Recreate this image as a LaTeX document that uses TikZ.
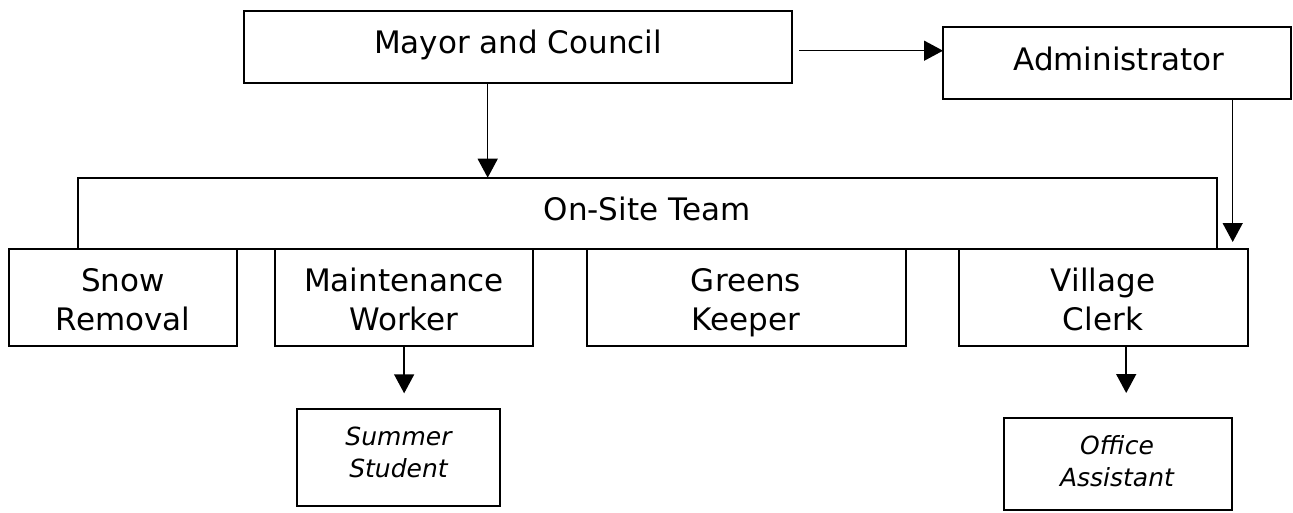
\documentclass[tikz,border=0pt]{standalone}
\usepackage{fontspec}
\setmainfont{DejaVu Sans}
\usetikzlibrary{arrows.meta}
\tikzset{
  box/.style={draw, line width=1.7pt, anchor=north west, inner sep=0pt, outer sep=0pt},
  lbl/.style={anchor=base, inner sep=0pt, font=\fontsize{31}{38.3}\selectfont},
  ilbl/.style={anchor=base, inner sep=0pt, font=\fontsize{25}{32.2}\selectfont\itshape},
  arr/.style={line width=1.5pt, -{Triangle[length=19pt,width=20pt]}},
}
\newcommand{\twolines}[2]{\begin{tabular}[t]{@{}c@{}}#1\\#2\end{tabular}}
\begin{document}
\begin{tikzpicture}[x=1pt, y=-1pt]
  \useasboundingbox (0,0) rectangle (1293,512);

  % boxes
  \node[box, minimum width=548pt,    minimum height=72pt]   (mayor)  at (244,10.7)   {};
  \node[box, minimum width=348pt,    minimum height=72pt]   (admin)  at (943,26.7)   {};
  \node[box, minimum width=1139.6pt, minimum height=71.3pt] (onsite) at (77.7,177.7) {};
  \node[box, minimum width=228.3pt,  minimum height=96.7pt] (snow)   at (9,249)      {};
  \node[box, minimum width=258.3pt,  minimum height=96.7pt] (maint)  at (275,249)    {};
  \node[box, minimum width=319.3pt,  minimum height=96.7pt] (greens) at (586.7,249)  {};
  \node[box, minimum width=289pt,    minimum height=96.7pt] (clerk)  at (958.7,249)  {};
  \node[box, minimum width=202.7pt,  minimum height=96.4pt] (summer) at (297.3,409.3) {};
  \node[box, minimum width=228pt,    minimum height=92.3pt] (office) at (1004.3,417.7) {};

  % labels
  \node[lbl] (mayorT)  at (518,53.3)   {Mayor and Council};
  \node[lbl] (adminT)  at (1119,70)    {Administrator};
  \node[lbl] (onsiteT) at (647,220)    {On-Site Team};
  \node[lbl] (snowT)   at (123,291.7)  {\twolines{Snow}{Removal}};
  \node[lbl] (maintT)  at (404,291.7)  {\twolines{Maintenance}{Worker}};
  \node[lbl] (greensT) at (746,291.7)  {\twolines{Greens}{Keeper}};
  \node[lbl] (clerkT)  at (1103,291.7) {\twolines{Village}{Clerk}};
  \node[ilbl] (summerT) at (398.5,445.7) {\twolines{Summer}{Student}};
  \node[ilbl] (officeT) at (1117,454)    {\twolines{Office}{Assistant}};

  % connectors
  \draw[arr] ([xshift=7pt, yshift=-4pt]mayor.east) -- ([yshift=-4pt]mayor.east -| admin.west);
  \draw[arr] ([xshift=-30.3pt]mayor.south) coordinate (m1) -- (m1 |- onsite.north);
  \draw[arr] ([xshift=115.7pt]admin.south) coordinate (a1) -- ([yshift=7pt]a1 |- clerk.north);
  \draw[arr] (maint.south) -- ([yshift=16pt]maint.south |- summer.north);
  \draw[arr] ([xshift=23pt]clerk.south) coordinate (c1) -- ([yshift=24.7pt]c1 |- office.north);
\end{tikzpicture}
\end{document}
